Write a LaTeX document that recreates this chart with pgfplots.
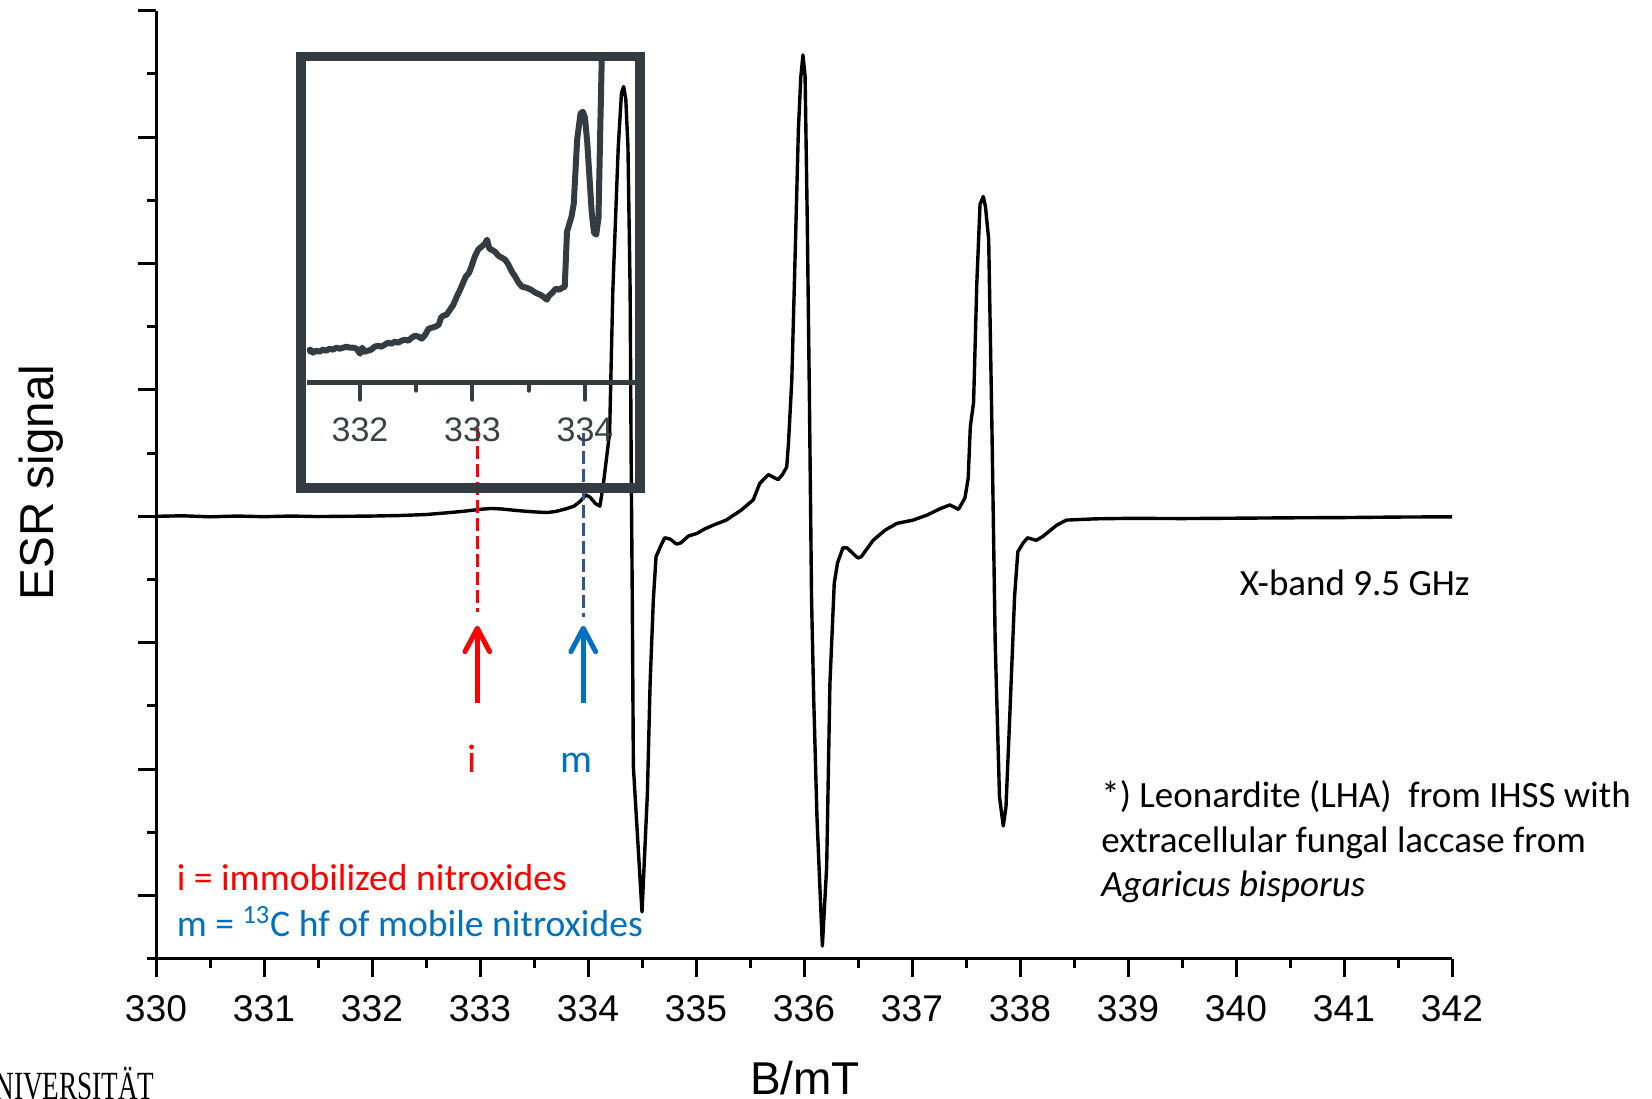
\documentclass[border=0pt]{standalone}
\usepackage{fontspec}
\setmainfont{Liberation Sans}
\newfontfamily\calibri{Carlito}
\newfontfamily\logofont{Liberation Serif}
\usepackage{graphicx}
\usepackage{pgfplots}
\pgfplotsset{compat=1.18}

\definecolor{insetgray}{HTML}{343C41}
\definecolor{insettext}{HTML}{3A4246}
\definecolor{mblue}{HTML}{0070C0}
\definecolor{dashblue}{HTML}{2F5597}
\definecolor{ired}{HTML}{FF0000}

\begin{document}
\begin{tikzpicture}
\useasboundingbox (0,0) rectangle (826pt,549pt);

% main spectrum
\begin{axis}[
    at={(78pt,69.65pt)}, anchor=south west,
    scale only axis, width=648pt, height=474pt,
    xmin=330, xmax=342, ymin=-3.5, ymax=4,
    axis x line*=bottom, axis y line*=left,
    axis line style={line width=1.5pt, black},
    xtick={330,...,342}, minor xtick={330.5,331.5,...,341.5},
    ytick={-3,...,4}, yticklabels={}, yticklabel style={text opacity=0},
    minor ytick={-3.5,-2.5,...,3.5},
    tick align=outside, major tick length=9pt, minor tick length=4.5pt,
    tick style={line width=1.5pt, black},
    xticklabel style={font=\fontsize{18.6}{20}\selectfont, anchor=center, yshift=-16pt},
    /pgf/number format/assume math mode=true,
    clip=false,
]
\addplot[black, line width=1.7pt, line join=round] coordinates {
    (330.00,0.000) (330.25,0.004) (330.50,-0.004) (330.75,0.002) (331.00,-0.003)
    (331.25,0.002) (331.50,-0.002) (331.75,0.000) (332.00,0.002) (332.25,0.006)
    (332.50,0.014) (332.70,0.028) (332.85,0.040) (333.00,0.055) (333.10,0.062)
    (333.20,0.058) (333.35,0.045) (333.50,0.035) (333.62,0.030) (333.70,0.038)
    (333.80,0.060) (333.87,0.080) (333.93,0.120) (333.98,0.170) (334.02,0.150)
    (334.07,0.100) (334.11,0.080) (334.14,0.240) (334.17,0.450) (334.20,0.660)
    (334.23,1.790) (334.28,2.920) (334.31,3.350) (334.33,3.400) (334.35,3.300)
    (334.37,2.920) (334.39,1.790) (334.40,0.400) (334.41,-0.660) (334.42,-1.980)
    (334.50,-3.130) (334.55,-2.190) (334.575,-1.320) (334.605,-0.660) (334.63,-0.320)
    (334.67,-0.240) (334.71,-0.170) (334.76,-0.180) (334.82,-0.220) (334.86,-0.210)
    (334.93,-0.156) (335.01,-0.135) (335.08,-0.100) (335.16,-0.070) (335.28,-0.030)
    (335.42,0.050) (335.53,0.130) (335.59,0.260) (335.67,0.330) (335.76,0.290)
    (335.80,0.330) (335.84,0.390) (335.856,0.575) (335.887,1.080) (335.918,2.070)
    (335.948,3.060) (335.97,3.470) (335.99,3.650) (336.01,3.480) (336.03,2.350)
    (336.05,0.940) (336.07,-0.660) (336.09,-1.450) (336.12,-2.380) (336.17,-3.400)
    (336.21,-2.770) (336.24,-1.320) (336.28,-0.530) (336.31,-0.370) (336.36,-0.250)
    (336.40,-0.250) (336.46,-0.300) (336.50,-0.330) (336.53,-0.320) (336.64,-0.190)
    (336.75,-0.110) (336.86,-0.056) (337.01,-0.030) (337.14,0.010) (337.26,0.060)
    (337.35,0.090) (337.43,0.055) (337.49,0.145) (337.52,0.300) (337.54,0.710)
    (337.57,0.900) (337.60,1.840) (337.63,2.470) (337.66,2.530) (337.68,2.450)
    (337.71,2.190) (337.74,0.700) (337.77,-0.990) (337.81,-2.220) (337.845,-2.450)
    (337.87,-2.300) (337.90,-1.690) (337.95,-0.630) (337.98,-0.280) (338.03,-0.210)
    (338.07,-0.170) (338.15,-0.190) (338.21,-0.160) (338.34,-0.070) (338.43,-0.030)
    (338.70,-0.020) (339.02,-0.016) (339.50,-0.018) (340.00,-0.015) (340.50,-0.012)
    (341.00,-0.010) (341.50,-0.006) (342.00,-0.004)
};

% markers for i and m
\draw[ired, line width=1.6pt, dash pattern=on 6.5pt off 2.5pt]
    (axis cs:332.975,0.696) -- (axis cs:332.975,-0.755);
\draw[dashblue, line width=1.6pt, dash pattern=on 6.5pt off 2.5pt]
    (axis cs:333.956,0.659) -- (axis cs:333.956,-0.794);
\draw[ired, line width=2.5pt] (axis cs:332.975,-1.475) -- (axis cs:332.975,-0.886);
\draw[ired, line width=2.5pt, line cap=round, line join=round]
    ([xshift=-6.15pt,yshift=-11.65pt]axis cs:332.975,-0.886) -- (axis cs:332.975,-0.886)
    -- ([xshift=6.15pt,yshift=-11.65pt]axis cs:332.975,-0.886);
\draw[mblue, line width=2.5pt] (axis cs:333.956,-1.475) -- (axis cs:333.956,-0.886);
\draw[mblue, line width=2.5pt, line cap=round, line join=round]
    ([xshift=-6.15pt,yshift=-11.65pt]axis cs:333.956,-0.886) -- (axis cs:333.956,-0.886)
    -- ([xshift=6.15pt,yshift=-11.65pt]axis cs:333.956,-0.886);
\end{axis}

% inset frame
\draw[insetgray, line width=4.75pt] (150.5pt,304.9pt) rectangle (320pt,520.75pt);

% inset: zoom on 332-334 mT
\begin{axis}[
    at={(153.55pt,357.65pt)}, anchor=south west,
    scale only axis, width=163.7pt, height=161pt,
    xmin=331.53, xmax=334.44, ymin=0, ymax=322,
    axis x line*=bottom, axis y line=none,
    axis line style={line width=2.5pt, insetgray},
    xtick={332,333,334}, minor xtick={332.5,333.5}, ytick=\empty,
    tick align=outside, major tick length=8.5pt, minor tick length=4pt,
    tick style={line width=2pt, insetgray, line cap=round},
    xticklabel style={font=\fontsize{17}{18}\selectfont, text=insettext, anchor=center, yshift=-14.8pt},
    /pgf/number format/assume math mode=true,
]
\addplot[insetgray, line width=3pt, line join=round] coordinates {
    (331.53,31) (331.56,33) (331.58,30) (331.61,32) (331.64,31) (331.67,33)
    (331.70,32) (331.73,34) (331.76,33) (331.79,35) (331.82,34) (331.85,35)
    (331.88,36) (331.91,35) (331.94,35) (331.97,34) (332.00,29) (332.02,35)
    (332.04,31) (332.07,32) (332.10,33) (332.13,36) (332.16,37) (332.19,36)
    (332.22,38) (332.25,40) (332.28,39) (332.31,41) (332.34,40) (332.37,42)
    (332.40,43) (332.43,42) (332.46,45) (332.49,47) (332.52,46) (332.55,44)
    (332.58,48) (332.61,54) (332.64,55) (332.67,56) (332.70,58) (332.72,65)
    (332.74,67) (332.77,68) (332.80,73) (332.83,78) (332.86,86) (332.89,93)
    (332.92,101) (332.94,106) (332.97,110) (332.99,116) (333.02,126) (333.05,133)
    (333.08,136) (333.11,139) (333.13,143) (333.15,134) (333.17,133) (333.20,131)
    (333.23,127) (333.26,125) (333.29,123) (333.32,118) (333.35,111) (333.38,106)
    (333.41,100) (333.44,96) (333.48,95) (333.52,93) (333.56,90) (333.60,88)
    (333.63,86) (333.66,83) (333.68,87) (333.71,90) (333.74,94) (333.77,93)
    (333.80,95) (333.82,96) (333.84,151) (333.88,166) (333.90,179) (333.93,243)
    (333.96,269) (333.98,271) (334.00,265) (334.02,240) (334.04,205) (334.06,170)
    (334.08,150) (334.10,148) (334.12,165) (334.135,250) (334.15,330)
};
\end{axis}

% axis titles
\node[rotate=90, anchor=base, inner sep=0, font=\fontsize{23.8}{24}\selectfont]
    at (26.65pt,307.75pt) {ESR signal};
\node[anchor=base, inner sep=0, font=\fontsize{23}{24}\selectfont]
    at (402.5pt,1.7pt) {B/mT};

% annotations
\node[anchor=base, inner sep=0, text=ired, font=\calibri\fontsize{20}{22}\selectfont]
    at (235.85pt,163pt) {i};
\node[anchor=base, inner sep=0, text=mblue, font=\calibri\fontsize{20}{22}\selectfont]
    at (288.4pt,163pt) {m};
\node[anchor=base west, inner sep=0, text=ired, font=\calibri\fontsize{18.8}{22}\selectfont]
    at (88.2pt,104pt) {i = immobilized nitroxides};
\node[anchor=base west, inner sep=0, text=mblue, font=\calibri\fontsize{18.8}{22}\selectfont]
    at (88.2pt,80.8pt) {m = \textsuperscript{13}C hf of mobile nitroxides};
\node[anchor=base west, inner sep=0, font=\calibri\fontsize{18.5}{22}\selectfont]
    at (619.75pt,251.2pt) {X-band 9.5 GHz};
\node[anchor=base west, inner sep=0, font=\calibri\fontsize{18.5}{22}\selectfont]
    at (550.5pt,145.5pt) {*) Leonardite (LHA)\ \ from IHSS with};
\node[anchor=base west, inner sep=0, font=\calibri\fontsize{18.5}{22}\selectfont]
    at (550.5pt,122.8pt) {extracellular fungal laccase from};
\node[anchor=base west, inner sep=0, font=\calibri\fontsize{18.5}{22}\selectfont\itshape]
    at (550.5pt,100.7pt) {Agaricus bisporus};

% cut-off logo text at the lower left
\node[anchor=base east, inner sep=0] at (77.5pt,-0.5pt)
    {\scalebox{0.68}[1]{\logofont\fontsize{20}{20}\selectfont UNIVERSITÄT}};
\end{tikzpicture}
\end{document}
